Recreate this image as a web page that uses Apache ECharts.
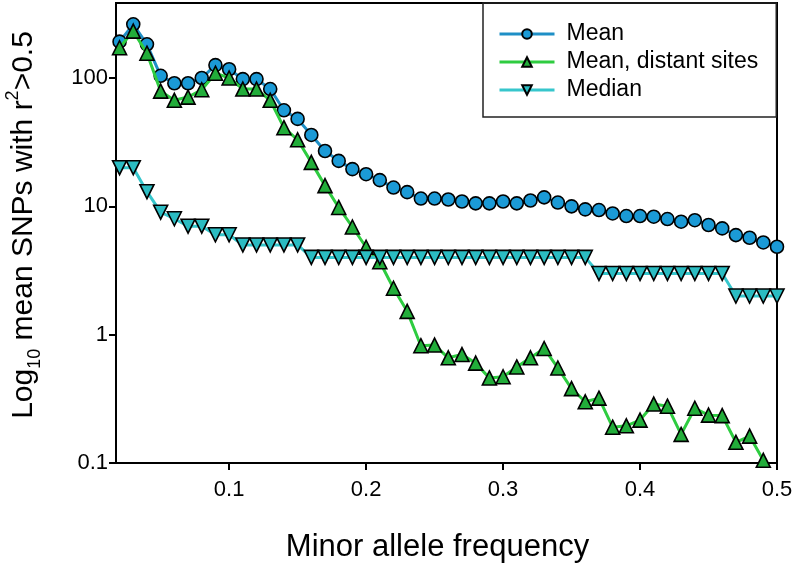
<!DOCTYPE html>
<html>
<head>
<meta charset="utf-8">
<script src="https://cdn.jsdelivr.net/npm/echarts@6/dist/echarts.min.js"></script>
<style>
html,body{margin:0;padding:0;background:#fff;}
#chart{width:793px;height:563px;}
</style>
</head>
<body>
<div id="chart"></div>
<script>
var maf = [0.02,0.03,0.04,0.05,0.06,0.07,0.08,0.09,0.10,0.11,0.12,0.13,0.14,0.15,0.16,0.17,0.18,0.19,0.20,0.21,0.22,0.23,0.24,0.25,0.26,0.27,0.28,0.29,0.30,0.31,0.32,0.33,0.34,0.35,0.36,0.37,0.38,0.39,0.40,0.41,0.42,0.43,0.44,0.45,0.46,0.47,0.48,0.49,0.50];
var meanVals = [192,262,183,104,91,91,100,126,117,98,98,82,56,48,36,27,22.6,19.5,17.8,16.0,14.0,12.9,11.5,11.5,11.3,10.9,10.55,10.55,10.9,10.55,11.1,11.75,10.7,10.0,9.47,9.35,8.8,8.4,8.4,8.3,7.96,7.59,7.8,7.15,6.73,5.97,5.69,5.23,4.84];
var distantVals = [172,232,156,79,67,71,81,109,100,82,82,67,41,33,22,14.5,9.8,6.9,4.8,3.7,2.3,1.52,0.82,0.83,0.66,0.70,0.60,0.46,0.47,0.56,0.66,0.78,0.55,0.38,0.30,0.32,0.19,0.195,0.216,0.288,0.277,0.167,0.267,0.236,0.234,0.145,0.162,0.105,null];
var medianVals = [20,20,13,9,8,7,7,6,6,5,5,5,5,5,4,4,4,4,4,4,4,4,4,4,4,4,4,4,4,4,4,4,4,4,4,3,3,3,3,3,3,3,3,3,3,2,2,2,2];
var xTicks = [0.1,0.2,0.3,0.4,0.5];
var yTicks = [0.1,1,10,100];
var seriesNames = ['Mean','Mean, distant sites','Median'];

function pairs(vals){ return maf.map(function(x,i){ return [x, vals[i]]; }); }

var FONT = 'Liberation Sans, Arial, sans-serif';
var chart = echarts.init(document.getElementById('chart'), null, {renderer:'canvas'});
chart.setOption({
  animation:false,
  backgroundColor:'#fff',
  grid:{left:116, right:16, top:3, bottom:100, outerBoundsMode:'none', containLabel:false,
        show:true, borderColor:'#000', borderWidth:2, backgroundColor:'transparent'},
  legend:{
    orient:'vertical', left:483, top:3,
    padding:[17,18,13,15],
    borderColor:'#222', borderWidth:1.5,
    itemWidth:55, itemHeight:12, itemGap:0,
    data:seriesNames,
    lineStyle:{width:3},
    textStyle:{fontFamily:FONT, fontSize:23, color:'#000', lineHeight:28, padding:[0,0,0,7]}
  },
  xAxis:{
    type:'value', min:0.0174, max:0.5,
    axisLine:{lineStyle:{color:'#000', width:2}},
    axisTick:{customValues:xTicks, length:7, lineStyle:{color:'#000', width:2}},
    axisLabel:{customValues:xTicks, fontFamily:FONT, fontSize:22, color:'#000', margin:16, formatter:function(v){return v.toFixed(1);}},
    splitLine:{show:false},
    name:'Minor allele frequency', nameLocation:'middle', nameGap:69,
    nameTextStyle:{fontFamily:FONT, fontSize:31, color:'#000', padding:[0,18,0,0]}
  },
  yAxis:{
    type:'log', logBase:10, min:0.1, max:384,
    axisLine:{lineStyle:{color:'#000', width:2}},
    axisTick:{customValues:yTicks, length:7, lineStyle:{color:'#000', width:2}},
    axisLabel:{customValues:yTicks, fontFamily:FONT, fontSize:22, color:'#000', margin:8, formatter:function(v){ return v < 1 ? String(v) : String(Math.round(v)); }},
    minorTick:{show:false},
    splitLine:{show:false},
    name:'Log{sub|10} mean SNPs with r{sup|2}>0.5', nameLocation:'middle', nameGap:72,
    nameTextStyle:{fontFamily:FONT, fontSize:30, color:'#000', lineHeight:40, padding:[0,0,0,16],
      rich:{
        sub:{fontFamily:FONT, fontSize:18, color:'#000', verticalAlign:'bottom', lineHeight:40},
        sup:{fontFamily:FONT, fontSize:18, color:'#000', verticalAlign:'top', lineHeight:40}
      }}
  },
  series:[
    {name:seriesNames[0], type:'line', data:pairs(meanVals), symbol:'circle', symbolSize:13,
     lineStyle:{color:'#1e8fc6', width:3}, itemStyle:{color:'#1b9ad6', borderColor:'#000', borderWidth:1.6}, z:2},
    {name:seriesNames[1], type:'line', data:pairs(distantVals), symbol:'triangle', symbolSize:14,
     lineStyle:{color:'#2ecc40', width:3}, itemStyle:{color:'#22ad3a', borderColor:'#000', borderWidth:1.6}, z:3},
    {name:seriesNames[2], type:'line', data:pairs(medianVals), symbol:'triangle', symbolRotate:180, symbolSize:14,
     lineStyle:{color:'#36c6cc', width:3}, itemStyle:{color:'#2bbcc2', borderColor:'#000', borderWidth:1.6}, z:4}
  ]
});
</script>
</body>
</html>
